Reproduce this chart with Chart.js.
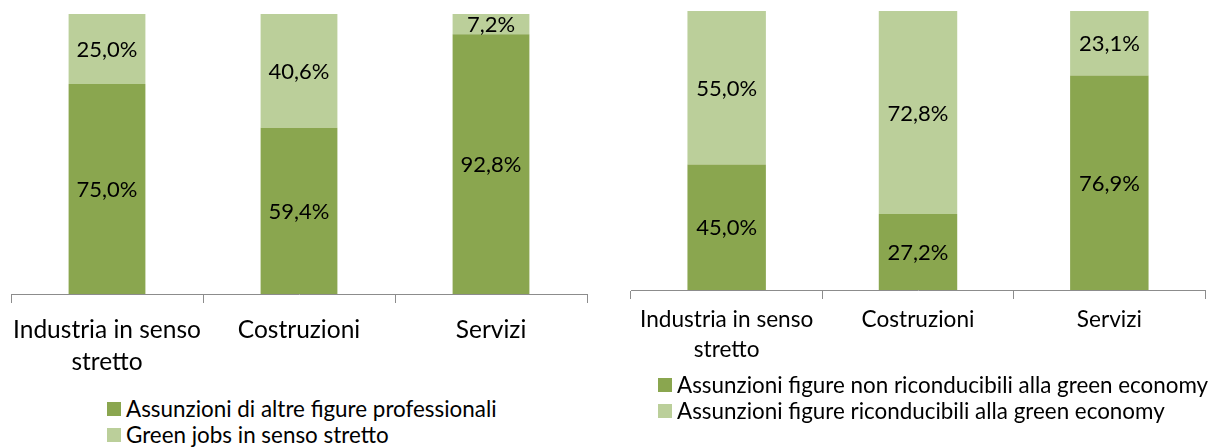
<!DOCTYPE html>
<html>
<head>
<meta charset="utf-8">
<script src="https://cdn.jsdelivr.net/npm/chart.js@4.4.0/dist/chart.umd.min.js"></script>
<style>
  body { margin: 0; background: #fff; width: 1210px; height: 448px; position: relative; overflow: hidden; font-family: Lato, sans-serif; }
  .box { position: absolute; top: 0; }
  .legend { position: absolute; color: #000; }
  .legend div { display: flex; align-items: center; white-space: nowrap; }
  .legend span.sw { display: inline-block; width: 14px; height: 14px; margin-right: 5px; }
</style>
</head>
<body>
<div class="box" style="left:0; width:600px; height:380px;"><canvas id="left"></canvas></div>
<div class="box" style="left:600px; width:610px; height:376px;"><canvas id="right"></canvas></div>
<div class="legend" id="legend-left" style="left:107px; top:396px; font-size:22.4px; line-height:26px;"></div>
<div class="legend" id="legend-right" style="left:658px; top:372px; font-size:22.4px; line-height:26px;"></div>
<script>
  const categorie = [['Industria in senso', 'stretto'], 'Costruzioni', 'Servizi'];

  // grafico di sinistra
  const altreFigure = [75.0, 59.4, 92.8];
  const greenJobs = [25.0, 40.6, 7.2];

  // grafico di destra
  const nonGreen = [45.0, 27.2, 76.9];
  const siGreen = [55.0, 72.8, 23.1];

  const VERDE_SCURO = '#8aa64f';
  const VERDE_CHIARO = '#bbcf9a';

  const etichette = {
    id: 'etichette',
    afterDatasetsDraw(chart, args, opts) {
      const ctx = chart.ctx;
      ctx.save();
      ctx.font = `${opts.size}px Lato, sans-serif`;
      ctx.fillStyle = '#000';
      ctx.textAlign = 'center';
      ctx.textBaseline = 'middle';
      chart.data.datasets.forEach((ds, i) => {
        chart.getDatasetMeta(i).data.forEach((bar, j) => {
          const p = bar.getProps(['x', 'y', 'base'], true);
          const txt = ds.data[j].toFixed(1).replace('.', ',') + '%';
          ctx.fillText(txt, p.x, (p.y + p.base) / 2 + 1);
        });
      });
      ctx.restore();
    }
  };

  function creaGrafico(id, serie, cfg) {
    return new Chart(document.getElementById(id), {
      type: 'bar',
      data: {
        labels: categorie,
        datasets: serie.map(s => ({
          label: s.label,
          data: s.data,
          backgroundColor: s.color,
          borderWidth: 0,
          categoryPercentage: 1,
          barPercentage: cfg.barPct
        }))
      },
      options: {
        responsive: true,
        maintainAspectRatio: false,
        animation: false,
        layout: { padding: cfg.padding },
        plugins: {
          legend: { display: false },
          tooltip: { enabled: false },
          etichette: { size: cfg.labelSize }
        },
        scales: {
          x: {
            stacked: true,
            grid: { drawOnChartArea: false, drawTicks: true, tickLength: 9, color: '#8c8c8c', offset: true },
            border: { color: '#8c8c8c', width: 1 },
            ticks: {
              color: '#000',
              maxRotation: 0,
              autoSkip: false,
              padding: cfg.tickPad,
              font: { family: 'Lato, sans-serif', size: cfg.tickSize, lineHeight: cfg.tickLine }
            },
            afterFit: sc => { sc.height = 86; }
          },
          y: { stacked: true, display: false, min: 0, max: 100 }
        }
      },
      plugins: [etichette]
    });
  }

  function legendaHtml(id, serie) {
    const el = document.getElementById(id);
    el.innerHTML = serie.map(s =>
      `<div><span class="sw" style="background:${s.color}"></span>${s.label}</div>`).join('');
  }

  const serieSx = [
    { label: 'Assunzioni di altre figure professionali', data: altreFigure, color: VERDE_SCURO },
    { label: 'Green jobs in senso stretto', data: greenJobs, color: VERDE_CHIARO }
  ];
  const serieDx = [
    { label: 'Assunzioni figure non riconducibili alla green economy', data: nonGreen, color: VERDE_SCURO },
    { label: 'Assunzioni figure riconducibili alla green economy', data: siGreen, color: VERDE_CHIARO }
  ];

  creaGrafico('left', serieSx, {
    padding: { left: 11, right: 13, top: 14, bottom: 0 },
    barPct: 0.4, labelSize: 22, tickSize: 24.5, tickLine: 1.3, tickPad: 11
  });
  creaGrafico('right', serieDx, {
    padding: { left: 31, right: 5, top: 11, bottom: 0 },
    barPct: 0.41, labelSize: 22, tickSize: 22.6, tickLine: 1.33, tickPad: 6
  });
  legendaHtml('legend-left', serieSx);
  legendaHtml('legend-right', serieDx);
</script>
</body>
</html>
